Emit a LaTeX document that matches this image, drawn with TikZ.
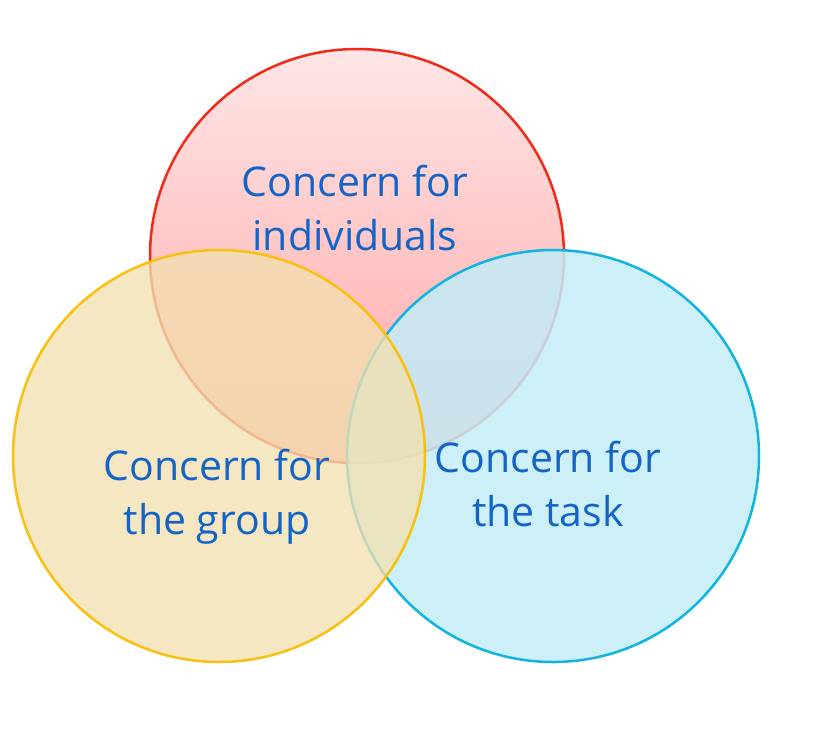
\documentclass[tikz,border=0pt]{standalone}
\usepackage{fontspec}
\setmainfont{Open Sans}
\definecolor{txt}{HTML}{1464C8}
\definecolor{rs}{HTML}{F02A18}
\definecolor{ys}{HTML}{F8C010}
\definecolor{bs}{HTML}{10B4E0}
\definecolor{yf}{HTML}{F2E0B0}
\begin{document}
\begin{tikzpicture}[x=1pt,y=-1pt,
  lab/.style={text=txt,font=\fontsize{41}{54}\selectfont,align=center}]
\useasboundingbox (0,0) rectangle (818,729);
\path[top color=red!10,bottom color=red!35,draw=rs,line width=2.5pt] (357,256) circle (207);
\node[lab] (ind) at (355,208) {Concern for\\individuals};
\fill[bs!25,opacity=0.85] (553,456) circle (206);
\draw[bs,line width=2.5pt] (553,456) circle (206);
\fill[yf,opacity=0.78] (219,456) circle (206);
\draw[ys,line width=2.5pt] (219,456) circle (206);
\node[lab] (grp) at (217,497) {Concern for\\the group};
\node[lab] (tsk) at (548,484) {Concern for\\the task};
\end{tikzpicture}
\end{document}
